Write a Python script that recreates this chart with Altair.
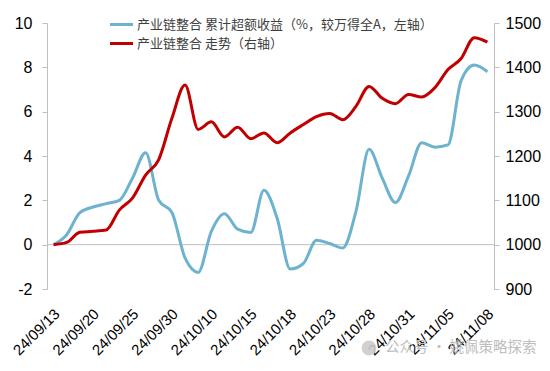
import json
import altair as alt
import pandas as pd

dates = ["24/09/13", "24/09/18", "24/09/19", "24/09/20", "24/09/23", "24/09/24", "24/09/25",
         "24/09/26", "24/09/27", "24/09/30", "24/10/08", "24/10/09", "24/10/10", "24/10/11",
         "24/10/14", "24/10/15", "24/10/16", "24/10/17", "24/10/18", "24/10/21", "24/10/22",
         "24/10/23", "24/10/24", "24/10/25", "24/10/28", "24/10/29", "24/10/30", "24/10/31",
         "24/11/01", "24/11/04", "24/11/05", "24/11/06", "24/11/07", "24/11/08"]

excess = [0, 0.45, 1.45, 1.7, 1.85, 2.0, 3.0, 4.15, 2.0, 1.45, -0.6, -1.25, 0.6, 1.4, 0.7,
          0.55, 2.45, 1.2, -1.1, -0.85, 0.2, 0.05, -0.15, 1.5, 4.3, 3.0, 1.9, 3.1, 4.6, 4.4,
          4.5, 7.4, 8.1, 7.8]

index_level = [1000, 1005, 1028, 1030, 1033, 1078, 1105, 1157, 1192, 1285, 1360, 1260, 1277,
               1243, 1265, 1239, 1252, 1230, 1252, 1271, 1289, 1296, 1282, 1312, 1357, 1330,
               1318, 1339, 1333, 1354, 1395, 1420, 1467, 1457]

series_names = ["产业链整合 累计超额收益（%，较万得全A，左轴）", "产业链整合 走势（右轴）"]
series_colors = ["#6DB3D0", "#C00000"]
left_ticks = [-2, 0, 2, 4, 6, 8, 10]
right_ticks = [900, 1000, 1100, 1200, 1300, 1400, 1500]
watermark = "公众号 · 姚佩策略探索"

df = pd.DataFrame({"idx": list(range(len(dates))), "date": dates,
                   "excess": excess, "level": index_level})

AXIS_FONT = "Liberation Sans"
GRAY = "#BFBFBF"

label_expr = json.dumps(dates, ensure_ascii=False) + "[datum.value]"

x_enc = alt.X(
    "idx:Q",
    scale=alt.Scale(domain=[-0.5, len(dates) - 0.5], nice=False, zero=False),
    axis=alt.Axis(values=list(range(0, len(dates), 3)), labelExpr=label_expr,
                  labelAngle=-45, labelAlign="right", labelBaseline="top",
                  labelPadding=17, labelOffset=-2, ticks=False, domain=False, grid=False,
                  labelFont=AXIS_FONT, labelFontSize=15, labelColor="black",
                  labelOverlap=False, title=None),
)

color_scale = alt.Scale(domain=series_names, range=series_colors)
legend = alt.Legend(
    orient="none", legendX=67, legendY=-6, direction="vertical", title=None,
    symbolType="M-2,0H2", symbolSize=132, symbolStrokeWidth=3,
    labelFont="Noto Sans CJK SC", labelFontSize=13, labelColor="#404040",
    labelLimit=600, labelOffset=8, rowPadding=4, padding=0,
)

zero_rule = alt.Chart(pd.DataFrame({"z": [0]})).mark_rule(color=GRAY, strokeWidth=1).encode(
    y=alt.Y("z:Q", scale=alt.Scale(domain=[-2, 10], nice=False), axis=None)
)

blue = alt.Chart(df).transform_calculate(series=f"'{series_names[0]}'").mark_line(
    strokeWidth=3, interpolate="monotone"
).encode(
    x=x_enc,
    y=alt.Y("excess:Q", scale=alt.Scale(domain=[-2, 10], nice=False, zero=False),
            axis=alt.Axis(orient="left", values=left_ticks, grid=False, domainColor=GRAY,
                          tickColor=GRAY, tickSize=5, labelPadding=10, labelFont=AXIS_FONT,
                          labelFontSize=16, labelColor="black",
                          labelExpr="'' + datum.value", title=None)),
    color=alt.Color("series:N", scale=color_scale, legend=legend),
)

red = alt.Chart(df).transform_calculate(series=f"'{series_names[1]}'").mark_line(
    strokeWidth=3, interpolate="monotone"
).encode(
    x=x_enc,
    y=alt.Y("level:Q", scale=alt.Scale(domain=[900, 1500], nice=False, zero=False),
            axis=alt.Axis(orient="right", values=right_ticks, grid=False, domainColor=GRAY,
                          tickColor=GRAY, tickSize=5, labelPadding=6, labelFont=AXIS_FONT,
                          labelFontSize=16, labelColor="black", format="d", title=None)),
    color=alt.Color("series:N", scale=color_scale, legend=legend),
)

wm_df = pd.DataFrame({"t": [watermark]})
wm_icon = alt.Chart(wm_df).mark_point(filled=True, shape="circle", size=220,
                                      color="#CCCCCC", opacity=0.9).encode(
    x=alt.value(322), y=alt.value(325)
)
wm_text = alt.Chart(wm_df).mark_text(align="left", baseline="middle", fontSize=14.5,
                                     font="Noto Sans CJK SC", color="#BDBDBD").encode(
    x=alt.value(338), y=alt.value(325), text="t:N"
)

chart = alt.layer(zero_rule, blue, red, wm_icon, wm_text).resolve_scale(
    y="independent"
).properties(
    width=447, height=266, autosize="none",
    padding={"left": 39, "top": 15, "right": 48, "bottom": 74},
    background="white",
).configure_view(stroke=None)

chart.save("out.html", embed_options={"renderer": "svg", "actions": False})
